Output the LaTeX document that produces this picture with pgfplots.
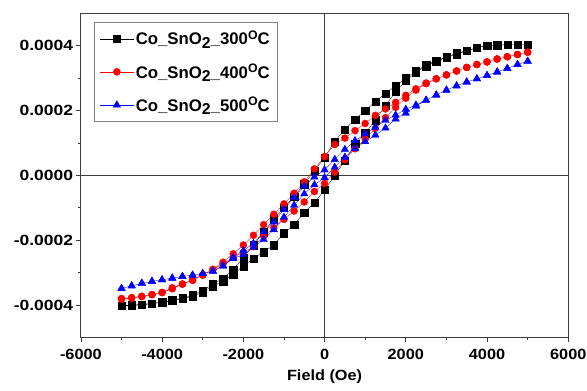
\documentclass[border=0pt]{standalone}
\usepackage{pgfplots}
\pgfplotsset{compat=1.18}
\usepackage{fontspec}
\setmainfont{Liberation Sans}
\definecolor{myred}{RGB}{255,0,0}
\definecolor{myblue}{RGB}{0,0,255}
\definecolor{axgray}{RGB}{60,60,60}
\newcommand{\lab}[1]{Co\_SnO\raisebox{-0.35ex}{\fontsize{16}{16}\selectfont 2}\_#1\raisebox{0.6ex}{\fontsize{12.5}{12.5}\selectfont O}C}
\begin{document}
\begin{tikzpicture}
\begin{axis}[
  at={(0,0)}, anchor=south west,
  scale only axis, width=494pt, height=328.5pt,
  xmin=-6000, xmax=6000, ymin=-0.0005, ymax=0.0005,
  xtick={-6000,-4000,-2000,0,2000,4000,6000},
  xticklabels={-6000,-4000,-2000,0,2000,4000,6000},
  ytick={-0.0004,-0.0002,0,0.0002,0.0004},
  yticklabels={-0.0004,-0.0002,0.0000,0.0002,0.0004},
  scaled x ticks=false, scaled y ticks=false,
  minor x tick num=1, minor y tick num=1,
  tick align=outside, tick pos=left,
  major tick length=5pt, minor tick length=3pt,
  axis line style={line width=1pt, axgray},
  every tick/.style={axgray, line width=0.8pt},
  xticklabel style={font=\fontsize{15}{17}\selectfont\bfseries, xscale=1.1, yshift=-3pt},
  yticklabel style={font=\fontsize{15}{17}\selectfont\bfseries, xscale=1.18, xshift=1pt},
  xlabel={Field (Oe)},
  xlabel style={font=\fontsize{15}{17}\selectfont\bfseries, xscale=1.1, yshift=-4pt},
  legend style={at={(0.026,0.974)}, anchor=north west, draw=gray, line width=0.8pt,
    font=\fontsize{17}{19}\selectfont\bfseries, row sep=14pt, inner ysep=7pt, inner xsep=6pt},
  legend cell align=left,
  legend image code/.code={\draw[mark repeat=2,mark phase=2,#1,line width=0.4pt] plot coordinates {(0pt,0pt) (17pt,0pt) (34pt,0pt)};},
]
\draw[axgray, line width=1pt] (axis cs:0,-0.0005) -- (axis cs:0,0.0005);
\draw[axgray, line width=1pt] (axis cs:-6000,0) -- (axis cs:6000,0);

\addplot[black, line width=0.3pt, mark=square*, mark size=3.7pt, mark options={solid}] table {
5000 4.03e-4
4750 4.03e-4
4500 4.03e-4
4250 4.02e-4
4000 4.01e-4
3750 3.94e-4
3500 3.85e-4
3250 3.77e-4
3000 3.65e-4
2750 3.54e-4
2500 3.40e-4
2250 3.22e-4
2000 3.00e-4
1750 2.76e-4
1500 2.53e-4
1250 2.27e-4
1000 2.00e-4
750 1.72e-4
500 1.42e-4
250 1.05e-4
0 0.55e-4
-250 0.15e-4
-500 -0.27e-4
-750 -0.65e-4
-1000 -1.00e-4
-1250 -1.35e-4
-1500 -1.75e-4
-1750 -2.15e-4
-2000 -2.55e-4
-2250 -2.90e-4
-2500 -3.18e-4
-2750 -3.36e-4
-3000 -3.55e-4
-3250 -3.70e-4
-3500 -3.78e-4
-3750 -3.85e-4
-4000 -3.91e-4
-4250 -3.95e-4
-4500 -3.98e-4
-4750 -4.00e-4
-5000 -4.02e-4
-5000 -4.03e-4
-4750 -4.02e-4
-4500 -4.00e-4
-4250 -3.96e-4
-4000 -3.92e-4
-3750 -3.87e-4
-3500 -3.81e-4
-3250 -3.74e-4
-3000 -3.60e-4
-2750 -3.42e-4
-2500 -3.26e-4
-2250 -3.05e-4
-2000 -2.80e-4
-1750 -2.56e-4
-1500 -2.37e-4
-1250 -2.15e-4
-1000 -1.78e-4
-750 -1.52e-4
-500 -1.15e-4
-250 -0.85e-4
0 -0.45e-4
250 0.00e-4
500 0.45e-4
750 0.98e-4
1000 1.30e-4
1250 1.70e-4
1500 2.15e-4
1750 2.58e-4
2000 2.92e-4
2250 3.18e-4
2500 3.37e-4
2750 3.52e-4
3000 3.63e-4
3250 3.74e-4
3500 3.84e-4
3750 3.93e-4
4000 4.00e-4
4250 4.02e-4
4500 4.03e-4
4750 4.03e-4
5000 4.03e-4
};
\addlegendentry{\lab{300}}

\addplot[myred, line width=0.3pt, mark=*, mark size=3.6pt, mark options={solid}] table {
5000 3.80e-4
4750 3.73e-4
4500 3.66e-4
4250 3.59e-4
4000 3.50e-4
3750 3.42e-4
3500 3.33e-4
3250 3.22e-4
3000 3.10e-4
2750 2.98e-4
2500 2.85e-4
2250 2.67e-4
2000 2.47e-4
1750 2.25e-4
1500 2.05e-4
1250 1.85e-4
1000 1.60e-4
750 1.38e-4
500 1.15e-4
250 0.95e-4
0 0.58e-4
-250 0.20e-4
-500 -0.20e-4
-750 -0.55e-4
-1000 -0.88e-4
-1250 -1.20e-4
-1500 -1.52e-4
-1750 -1.85e-4
-2000 -2.15e-4
-2250 -2.42e-4
-2500 -2.68e-4
-2750 -2.90e-4
-3000 -3.07e-4
-3250 -3.23e-4
-3500 -3.35e-4
-3750 -3.47e-4
-4000 -3.61e-4
-4250 -3.68e-4
-4500 -3.73e-4
-4750 -3.77e-4
-5000 -3.80e-4
-5000 -3.82e-4
-4750 -3.79e-4
-4500 -3.74e-4
-4250 -3.68e-4
-4000 -3.62e-4
-3750 -3.50e-4
-3500 -3.36e-4
-3250 -3.24e-4
-3000 -3.08e-4
-2750 -2.91e-4
-2500 -2.73e-4
-2250 -2.53e-4
-2000 -2.37e-4
-1750 -2.20e-4
-1500 -1.88e-4
-1250 -1.62e-4
-1000 -1.36e-4
-750 -1.10e-4
-500 -0.82e-4
-250 -0.50e-4
0 -0.25e-4
250 0.10e-4
500 0.48e-4
750 0.82e-4
1000 1.12e-4
1250 1.45e-4
1500 1.78e-4
1750 2.10e-4
2000 2.38e-4
2250 2.63e-4
2500 2.83e-4
2750 2.98e-4
3000 3.10e-4
3250 3.22e-4
3500 3.33e-4
3750 3.42e-4
4000 3.50e-4
4250 3.59e-4
4500 3.66e-4
4750 3.73e-4
5000 3.80e-4
};
\addlegendentry{\lab{400}}

\addplot[myblue, line width=0.3pt, mark=triangle*, mark size=4.4pt, mark options={solid}] table {
5000 3.52e-4
4750 3.42e-4
4500 3.30e-4
4250 3.19e-4
4000 3.08e-4
3750 2.98e-4
3500 2.88e-4
3250 2.76e-4
3000 2.63e-4
2750 2.48e-4
2500 2.32e-4
2250 2.17e-4
2000 2.04e-4
1750 1.86e-4
1500 1.70e-4
1250 1.48e-4
1000 1.28e-4
750 1.07e-4
500 0.80e-4
250 0.49e-4
0 0.17e-4
-250 -0.05e-4
-500 -0.33e-4
-750 -0.68e-4
-1000 -1.05e-4
-1250 -1.44e-4
-1500 -1.74e-4
-1750 -2.10e-4
-2000 -2.32e-4
-2250 -2.53e-4
-2500 -2.78e-4
-2750 -2.96e-4
-3000 -3.03e-4
-3250 -3.08e-4
-3500 -3.12e-4
-3750 -3.17e-4
-4000 -3.22e-4
-4250 -3.27e-4
-4500 -3.33e-4
-4750 -3.41e-4
-5000 -3.49e-4
-5000 -3.49e-4
-4750 -3.41e-4
-4500 -3.33e-4
-4250 -3.27e-4
-4000 -3.22e-4
-3750 -3.17e-4
-3500 -3.12e-4
-3250 -3.08e-4
-3000 -3.03e-4
-2750 -2.96e-4
-2500 -2.80e-4
-2250 -2.57e-4
-2000 -2.44e-4
-1750 -2.22e-4
-1500 -1.98e-4
-1250 -1.68e-4
-1000 -1.29e-4
-750 -0.92e-4
-500 -0.57e-4
-250 -0.29e-4
0 -0.07e-4
250 0.25e-4
500 0.56e-4
750 0.83e-4
1000 1.04e-4
1250 1.24e-4
1500 1.46e-4
1750 1.74e-4
2000 1.92e-4
2250 2.13e-4
2500 2.32e-4
2750 2.48e-4
3000 2.63e-4
3250 2.76e-4
3500 2.88e-4
3750 2.98e-4
4000 3.08e-4
4250 3.19e-4
4500 3.30e-4
4750 3.42e-4
5000 3.52e-4
};
\addlegendentry{\lab{500}}
\end{axis}
\pgfresetboundingbox
\path[use as bounding box] (-82pt,-54pt) rectangle (513pt,342pt);
\end{tikzpicture}
\end{document}
